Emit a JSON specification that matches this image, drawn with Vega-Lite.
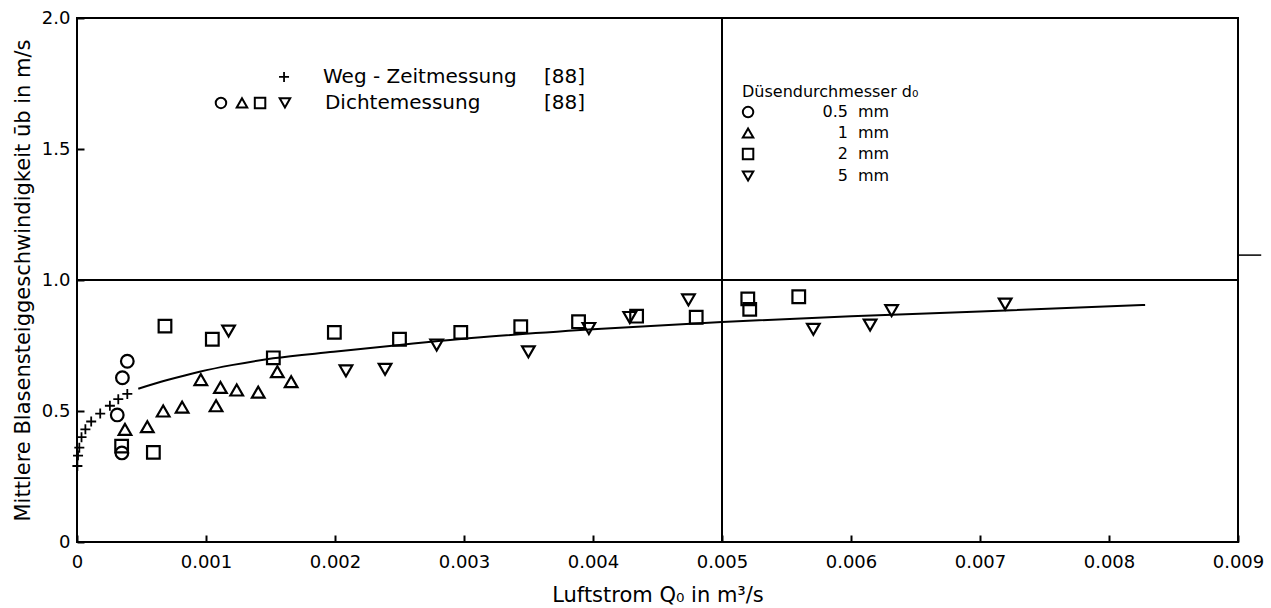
{
  "$schema": "https://vega.github.io/schema/vega-lite/v6.json",
  "autosize": "none",
  "width": 1161,
  "height": 524,
  "padding": {"left": 77, "top": 18, "right": 33, "bottom": 66},
  "background": "white",
  "config": {
    "view": {"stroke": "black", "strokeWidth": 2},
    "font": "DejaVu Sans",
    "axis": {"labelColor": "black", "titleColor": "black", "titleFontWeight": "normal", "tickColor": "black", "grid": false, "domain": false}
  },
  "datasets": {
    "pts": [
      {"s": "0.5 mm", "Q": 0.000390, "u": 0.69},
      {"s": "0.5 mm", "Q": 0.000352, "u": 0.627},
      {"s": "0.5 mm", "Q": 0.000312, "u": 0.485},
      {"s": "0.5 mm", "Q": 0.000348, "u": 0.34},
      {"s": "1 mm", "Q": 0.000372, "u": 0.43},
      {"s": "1 mm", "Q": 0.000545, "u": 0.44},
      {"s": "1 mm", "Q": 0.000668, "u": 0.50},
      {"s": "1 mm", "Q": 0.000815, "u": 0.515},
      {"s": "1 mm", "Q": 0.000960, "u": 0.62},
      {"s": "1 mm", "Q": 0.001078, "u": 0.52},
      {"s": "1 mm", "Q": 0.001112, "u": 0.59},
      {"s": "1 mm", "Q": 0.001238, "u": 0.58},
      {"s": "1 mm", "Q": 0.001405, "u": 0.572},
      {"s": "1 mm", "Q": 0.001553, "u": 0.65},
      {"s": "1 mm", "Q": 0.001660, "u": 0.612},
      {"s": "2 mm", "Q": 0.000346, "u": 0.366},
      {"s": "2 mm", "Q": 0.000592, "u": 0.342},
      {"s": "2 mm", "Q": 0.000682, "u": 0.824},
      {"s": "2 mm", "Q": 0.001049, "u": 0.774},
      {"s": "2 mm", "Q": 0.001522, "u": 0.703},
      {"s": "2 mm", "Q": 0.001995, "u": 0.80},
      {"s": "2 mm", "Q": 0.002500, "u": 0.774},
      {"s": "2 mm", "Q": 0.002975, "u": 0.80},
      {"s": "2 mm", "Q": 0.003440, "u": 0.822},
      {"s": "2 mm", "Q": 0.003888, "u": 0.841},
      {"s": "2 mm", "Q": 0.004338, "u": 0.862},
      {"s": "2 mm", "Q": 0.004800, "u": 0.858},
      {"s": "2 mm", "Q": 0.005200, "u": 0.928},
      {"s": "2 mm", "Q": 0.005215, "u": 0.888},
      {"s": "2 mm", "Q": 0.005595, "u": 0.936},
      {"s": "5 mm", "Q": 0.001175, "u": 0.805},
      {"s": "5 mm", "Q": 0.002085, "u": 0.653},
      {"s": "5 mm", "Q": 0.002388, "u": 0.659},
      {"s": "5 mm", "Q": 0.002788, "u": 0.752},
      {"s": "5 mm", "Q": 0.003499, "u": 0.726},
      {"s": "5 mm", "Q": 0.003968, "u": 0.815},
      {"s": "5 mm", "Q": 0.004285, "u": 0.857},
      {"s": "5 mm", "Q": 0.004740, "u": 0.924},
      {"s": "5 mm", "Q": 0.005708, "u": 0.812},
      {"s": "5 mm", "Q": 0.006148, "u": 0.828},
      {"s": "5 mm", "Q": 0.006315, "u": 0.883},
      {"s": "5 mm", "Q": 0.007195, "u": 0.908}
    ],
    "crosses": [
      {"Q": 0.000003, "u": 0.29},
      {"Q": 0.000008, "u": 0.33},
      {"Q": 0.000018, "u": 0.36},
      {"Q": 0.000035, "u": 0.40},
      {"Q": 0.000065, "u": 0.43},
      {"Q": 0.000110, "u": 0.46},
      {"Q": 0.000180, "u": 0.49},
      {"Q": 0.000255, "u": 0.52},
      {"Q": 0.000320, "u": 0.545},
      {"Q": 0.000390, "u": 0.565},
      {"Q": 0.001605, "u": 1.775}
    ],
    "fit": [
      {"Q": 0.000475, "u": 0.585},
      {"Q": 0.00070, "u": 0.618},
      {"Q": 0.00095, "u": 0.650},
      {"Q": 0.00121, "u": 0.676},
      {"Q": 0.00152, "u": 0.701},
      {"Q": 0.00199, "u": 0.726},
      {"Q": 0.00250, "u": 0.752},
      {"Q": 0.00320, "u": 0.784},
      {"Q": 0.00400, "u": 0.812},
      {"Q": 0.00500, "u": 0.840},
      {"Q": 0.00600, "u": 0.862},
      {"Q": 0.00700, "u": 0.880},
      {"Q": 0.00828, "u": 0.905}
    ],
    "legsym": [
      {"s": "0.5 mm", "Q": 0.001116, "u": 1.676},
      {"s": "1 mm", "Q": 0.001279, "u": 1.676},
      {"s": "2 mm", "Q": 0.001419, "u": 1.676},
      {"s": "5 mm", "Q": 0.001612, "u": 1.676},
      {"s": "0.5 mm", "Q": 0.005202, "u": 1.641},
      {"s": "1 mm", "Q": 0.005202, "u": 1.561},
      {"s": "2 mm", "Q": 0.005202, "u": 1.481},
      {"s": "5 mm", "Q": 0.005202, "u": 1.397}
    ],
    "lefttext": [
      {"t": "Weg - Zeitmessung", "Q": 0.001907, "u": 1.775},
      {"t": "Dichtemessung", "Q": 0.001922, "u": 1.676},
      {"t": "[88]", "Q": 0.00362, "u": 1.775},
      {"t": "[88]", "Q": 0.00362, "u": 1.676}
    ],
    "righttext": [
      {"t": "Düsendurchmesser d₀", "Q": 0.005155, "u": 1.718},
      {"t": "mm", "Q": 0.006054, "u": 1.641},
      {"t": "mm", "Q": 0.006054, "u": 1.561},
      {"t": "mm", "Q": 0.006054, "u": 1.481},
      {"t": "mm", "Q": 0.006054, "u": 1.397}
    ],
    "nums": [
      {"t": "0.5", "Q": 0.005977, "u": 1.641},
      {"t": "1", "Q": 0.005977, "u": 1.561},
      {"t": "2", "Q": 0.005977, "u": 1.481},
      {"t": "5", "Q": 0.005977, "u": 1.397}
    ],
    "mark": [
      {"Q": 0.009, "Q2": 0.00918, "u": 1.095}
    ]
  },
  "encoding": {
    "x": {
      "field": "Q", "type": "quantitative",
      "scale": {"domain": [0, 0.009], "nice": false, "zero": false},
      "axis": {
        "title": "Luftstrom Q₀ in m³/s",
        "values": [0, 0.001, 0.002, 0.003, 0.004, 0.005, 0.006, 0.007, 0.008, 0.009],
        "labelExpr": "datum.value == 0 ? '0' : format(datum.value, '.3f')",
        "labelFlush": false,
        "labelFontSize": 18, "labelPadding": 18, "tickSize": -7, "tickWidth": 2,
        "titleFontSize": 21, "titlePadding": 13
      }
    },
    "y": {
      "field": "u", "type": "quantitative",
      "scale": {"domain": [0, 2], "nice": false, "zero": false},
      "axis": {
        "title": "Mittlere Blasensteiggeschwindigkeit ūb in m/s",
        "values": [0, 0.5, 1, 1.5, 2],
        "labelExpr": "datum.value == 0 ? '0' : format(datum.value, '.1f')",
        "labelFlush": false,
        "labelFontSize": 18, "labelPadding": 14, "tickSize": -7, "tickWidth": 2,
        "titleFontSize": 21, "titlePadding": 8
      }
    }
  },
  "layer": [
    {
      "data": {"values": [{"v": 1}]},
      "mark": {"type": "rule", "color": "black", "strokeWidth": 2},
      "encoding": {"y": {"field": "v", "type": "quantitative"}, "x": null}
    },
    {
      "data": {"values": [{"v": 0.005}]},
      "mark": {"type": "rule", "color": "black", "strokeWidth": 2},
      "encoding": {"x": {"field": "v", "type": "quantitative"}, "y": null}
    },
    {
      "data": {"name": "mark"},
      "mark": {"type": "rule", "color": "black", "strokeWidth": 1.5, "clip": false},
      "encoding": {"x2": {"field": "Q2"}}
    },
    {
      "data": {"name": "fit"},
      "mark": {"type": "line", "color": "black", "strokeWidth": 2, "interpolate": "monotone"},
      "encoding": {}
    },
    {
      "data": {"name": "pts"},
      "mark": {"type": "point", "filled": false, "stroke": "black", "strokeWidth": 2.2, "size": 160, "opacity": 1},
      "encoding": {
        "shape": {"field": "s", "type": "nominal", "legend": null,
          "scale": {"domain": ["0.5 mm", "1 mm", "2 mm", "5 mm"], "range": ["circle", "triangle-up", "square", "triangle-down"]}}
      }
    },
    {
      "data": {"name": "crosses"},
      "mark": {"type": "point", "shape": "M-1,0L1,0M0,-1L0,1", "filled": false, "stroke": "black", "strokeWidth": 1.8, "size": 100, "opacity": 1},
      "encoding": {}
    },
    {
      "data": {"name": "legsym"},
      "mark": {"type": "point", "filled": false, "stroke": "black", "strokeWidth": 2, "size": 110, "opacity": 1},
      "encoding": {
        "shape": {"field": "s", "type": "nominal", "legend": null,
          "scale": {"domain": ["0.5 mm", "1 mm", "2 mm", "5 mm"], "range": ["circle", "triangle-up", "square", "triangle-down"]}}
      }
    },
    {
      "data": {"name": "lefttext"},
      "mark": {"type": "text", "align": "left", "baseline": "middle", "fontSize": 20, "color": "black"},
      "encoding": {"text": {"field": "t"}}
    },
    {
      "data": {"name": "righttext"},
      "mark": {"type": "text", "align": "left", "baseline": "middle", "fontSize": 16, "color": "black"},
      "encoding": {"text": {"field": "t"}}
    },
    {
      "data": {"name": "nums"},
      "mark": {"type": "text", "align": "right", "baseline": "middle", "fontSize": 16, "color": "black"},
      "encoding": {"text": {"field": "t"}}
    }
  ]
}
